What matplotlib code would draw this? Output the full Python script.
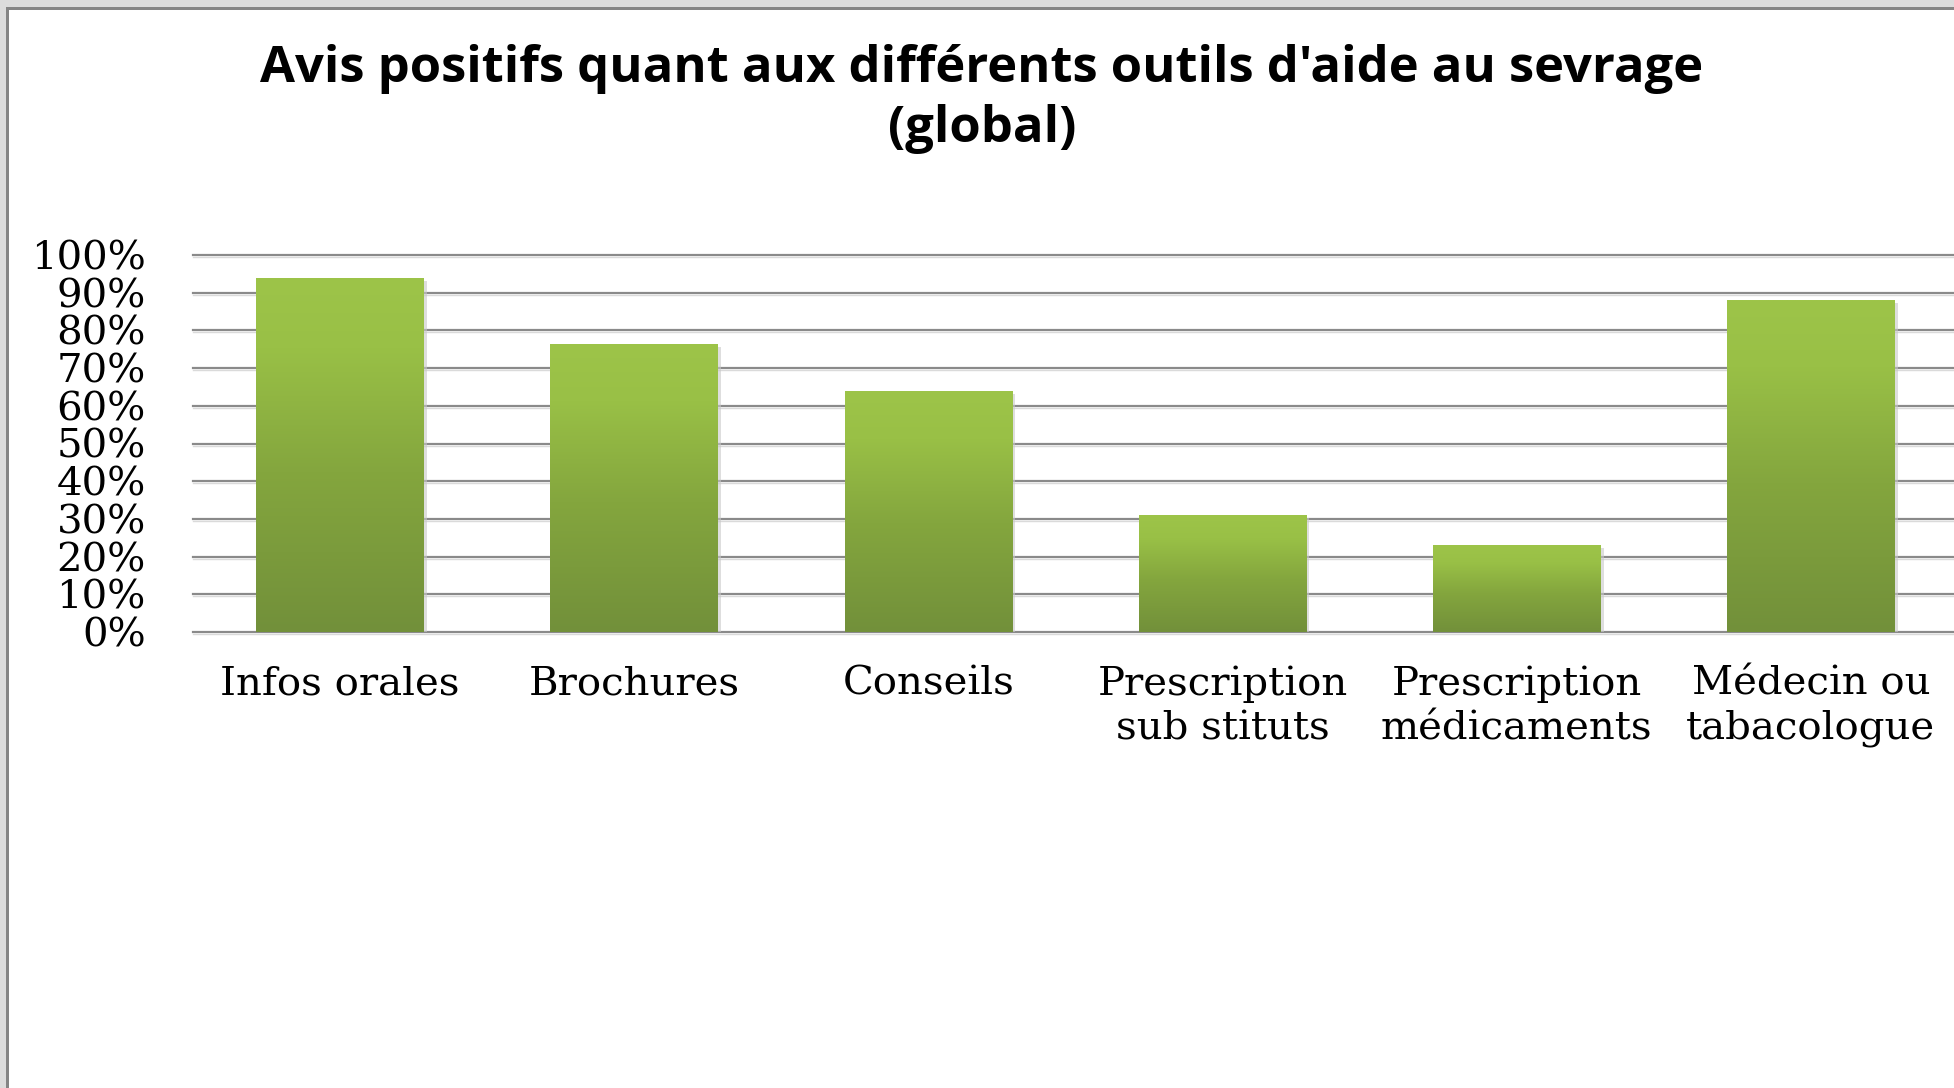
import matplotlib
matplotlib.use("Agg")
import matplotlib.pyplot as plt
import matplotlib.transforms as mtransforms
from matplotlib.colors import LinearSegmentedColormap
from matplotlib.patches import Rectangle
import numpy as np

categories = ["Infos orales", "Brochures", "Conseils",
              "Prescription\nsub stituts", "Prescription\nmédicaments",
              "Médecin ou\ntabacologue"]
values = [0.94, 0.765, 0.64, 0.31, 0.23, 0.88]
yticks = [0.0, 0.1, 0.2, 0.3, 0.4, 0.5, 0.6, 0.7, 0.8, 0.9, 1.0]
ytick_labels = ["0%", "10%", "20%", "30%", "40%", "50%", "60%", "70%", "80%", "90%", "100%"]
title = "Avis positifs quant aux différents outils d'aide au sevrage\n(global)"

W, H = 1954, 1088
fig = plt.figure(figsize=(W / 100, H / 100), dpi=100)
fig.patch.set_facecolor("white")

ax = fig.add_axes([193 / W, 1 - 632 / H, (1958 - 193) / W, (632 - 255) / H])
ax.set_xlim(-0.5, len(categories) - 0.5)
ax.set_ylim(0, 1.0)
ax.set_facecolor("white")
for s in ax.spines.values():
    s.set_visible(False)

ytr = ax.get_yaxis_transform()
shadow_line_tr = ytr + mtransforms.ScaledTranslation(0, -2 / 100, fig.dpi_scale_trans)
for t in yticks:
    ax.plot([0, 1], [t, t], color="#8a8a8a", lw=1.6, zorder=1, transform=ytr, clip_on=False)
    ax.plot([0, 1], [t, t], color="#dadada", lw=1.0, zorder=0.9, transform=shadow_line_tr, clip_on=False)

x = np.arange(len(categories))
width = 0.57
shadow_tr = ax.transData + mtransforms.ScaledTranslation(3 / 100, -3 / 100, fig.dpi_scale_trans)
ax.bar(x, values, width=width, color="#c8c8c8", alpha=0.6, zorder=2, transform=shadow_tr, linewidth=0)
bars = ax.bar(x, values, width=width, color="#8aaa40", zorder=3, linewidth=0)

cmap = LinearSegmentedColormap.from_list(
    "g", [(0.0, "#72903a"), (0.45, "#84a63e"), (0.8, "#99c046"), (1.0, "#9dc449")])
grad = np.linspace(0, 1, 256).reshape(-1, 1)
for b in bars:
    x0, y0 = b.get_x(), b.get_y()
    w, h = b.get_width(), b.get_height()
    im = ax.imshow(grad, cmap=cmap, aspect="auto", origin="lower",
                   extent=[x0, x0 + w, y0, y0 + h], zorder=4, interpolation="bilinear")
    im.set_clip_path(b)
ax.set_xlim(-0.5, len(categories) - 0.5)
ax.set_ylim(0, 1.0)

ax.set_yticks(yticks)
ax.set_yticklabels(ytick_labels, family="DejaVu Serif", fontsize=29, color="black")
ax.set_xticks(x)
ax.set_xticklabels(categories, family="DejaVu Serif", fontsize=29, color="black",
                   linespacing=1.25)
ax.tick_params(axis="y", length=0, pad=34)
ax.tick_params(axis="x", length=0, pad=24)

fig.text(982 / W, 1 - 99 / H, title, ha="center", va="center",
         family="Open Sans", fontweight="bold", fontsize=36.5, linespacing=1.24)

# window border
fig.patches.append(Rectangle((0, 1 - 7 / H), 1, 7 / H, transform=fig.transFigure,
                             facecolor="#dcdcdc", edgecolor="none", zorder=10))
fig.patches.append(Rectangle((0, 1 - 10 / H), 1, 3 / H, transform=fig.transFigure,
                             facecolor="#858585", edgecolor="none", zorder=10))
fig.patches.append(Rectangle((0, 0), 6 / W, 1, transform=fig.transFigure,
                             facecolor="#dcdcdc", edgecolor="none", zorder=10))
fig.patches.append(Rectangle((6 / W, 0), 3 / W, 1 - 7 / H, transform=fig.transFigure,
                             facecolor="#858585", edgecolor="none", zorder=10))

fig.savefig("out.png", dpi=100, facecolor="white")
